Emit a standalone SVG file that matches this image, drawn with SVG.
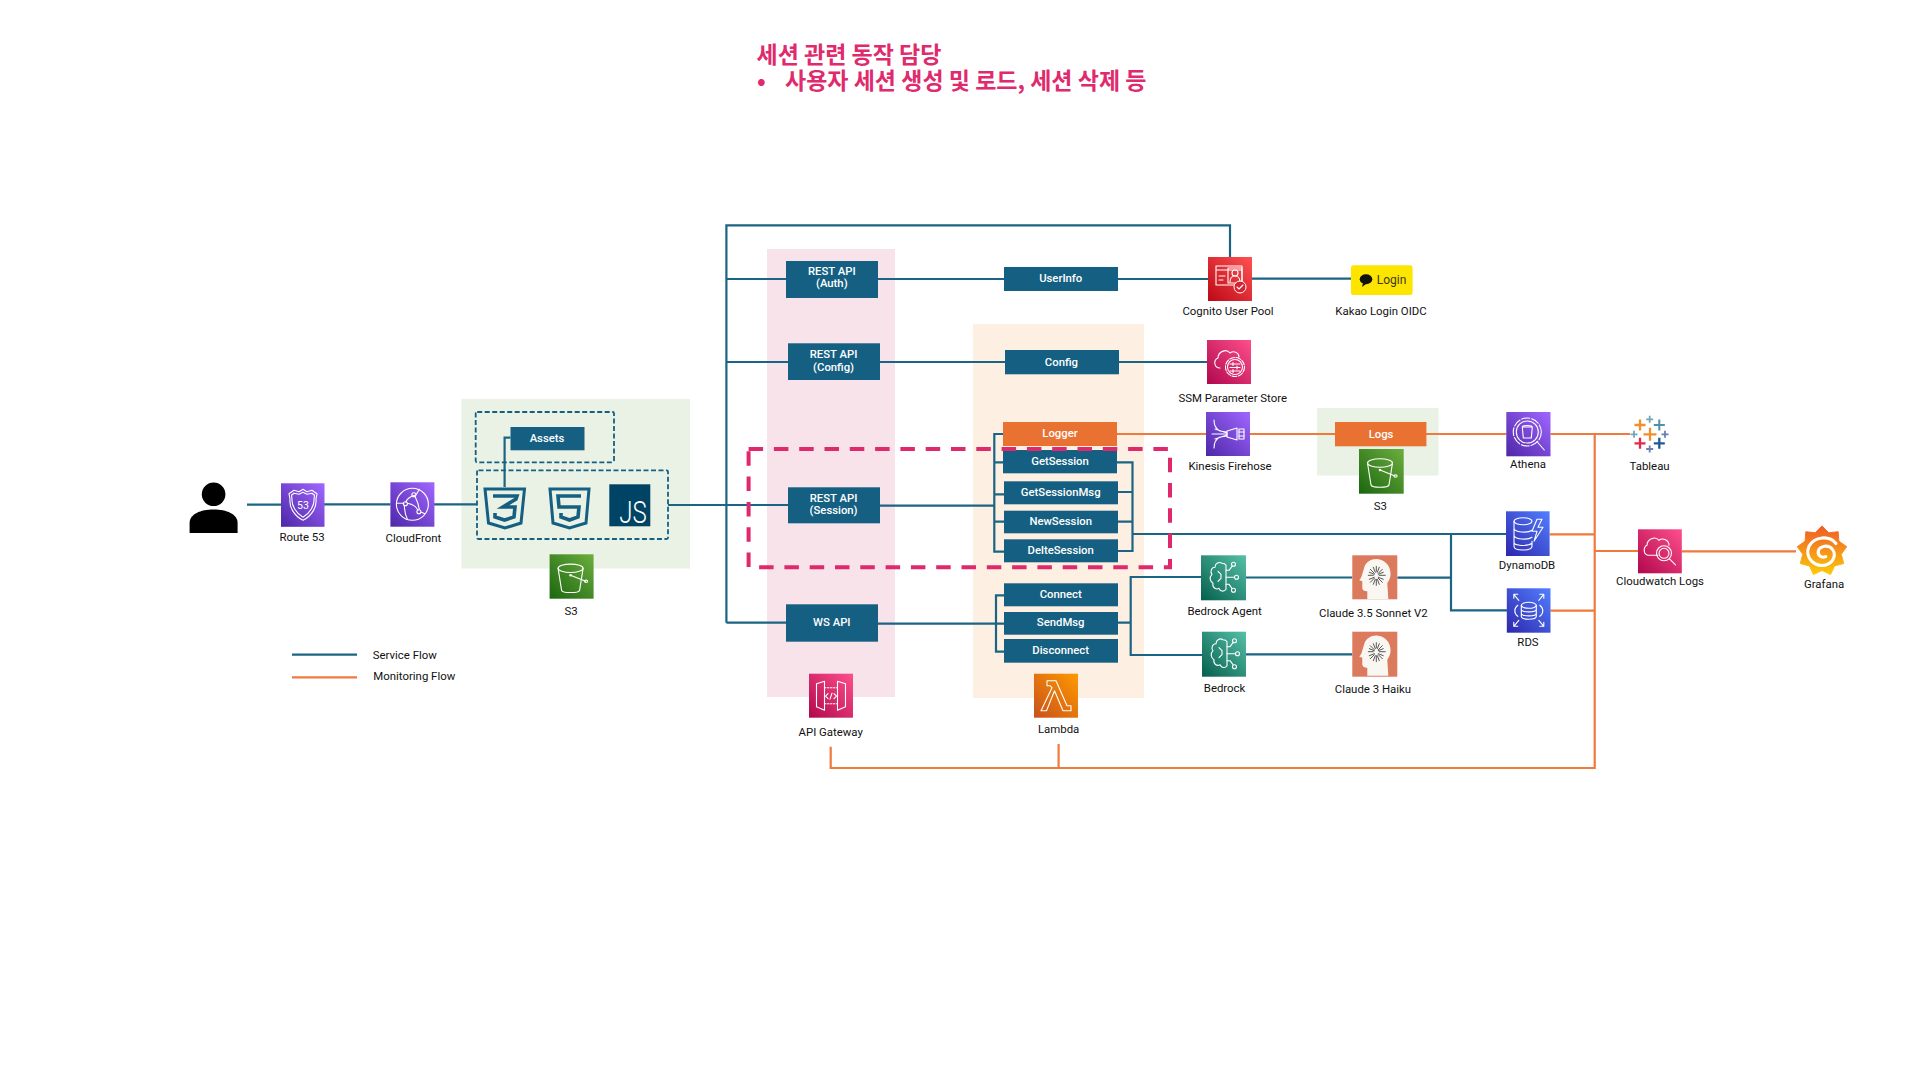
<svg xmlns="http://www.w3.org/2000/svg" width="1920" height="1080" viewBox="0 0 1920 1080">
<style>
text{font-family:Roboto,"Liberation Sans","Noto Sans CJK KR",sans-serif}
.lb{font-size:11.4px;fill:#111;text-anchor:middle}
.bt{font-size:11.3px;fill:#fff;text-anchor:middle;font-weight:500}
.box{fill:#156082}
.obox{fill:#E97132}
.ttl{font-family:"Noto Sans CJK KR",sans-serif;font-size:23px;font-weight:700;fill:#DF2A6D}
.sv{fill:none;stroke:#1B6483;stroke-width:2.2}
.mo{fill:none;stroke:#EE7A3C;stroke-width:2.2}
.dash{fill:none;stroke:#156082;stroke-width:1.8;stroke-dasharray:5 2.5}
.ic{fill:none;stroke:#fff;stroke-width:1.1;stroke-linejoin:round;stroke-linecap:round}
.logo{fill:none;stroke:#156082;stroke-width:3;stroke-linejoin:miter}
.logo2{fill:none;stroke:#156082;stroke-width:3.6;stroke-linejoin:miter}
</style>
<defs>
<linearGradient id="gPurple" x1="0" y1="1" x2="1" y2="0"><stop offset="0" stop-color="#4D27A8"/><stop offset="1" stop-color="#A166FF"/></linearGradient>
<linearGradient id="gGreen" x1="0" y1="1" x2="1" y2="0"><stop offset="0" stop-color="#1B660F"/><stop offset="1" stop-color="#6CAE3E"/></linearGradient>
<linearGradient id="gRed" x1="0" y1="1" x2="1" y2="0"><stop offset="0" stop-color="#BD0816"/><stop offset="1" stop-color="#FF5252"/></linearGradient>
<linearGradient id="gPink" x1="0" y1="1" x2="1" y2="0"><stop offset="0" stop-color="#B0084D"/><stop offset="1" stop-color="#FF4F8B"/></linearGradient>
<linearGradient id="gTeal" x1="0" y1="1" x2="1" y2="0"><stop offset="0" stop-color="#055F4E"/><stop offset="1" stop-color="#56C0A7"/></linearGradient>
<linearGradient id="gBlue" x1="0" y1="1" x2="1" y2="0"><stop offset="0" stop-color="#2E27AD"/><stop offset="1" stop-color="#527FFF"/></linearGradient>
<linearGradient id="gOrange" x1="0" y1="1" x2="1" y2="0"><stop offset="0" stop-color="#C8511B"/><stop offset="1" stop-color="#FF9900"/></linearGradient>
<linearGradient id="gGraf" x1="0" y1="0" x2="0" y2="1"><stop offset="0" stop-color="#F05A28"/><stop offset="1" stop-color="#FBCA0A"/></linearGradient>
<g id="artS3"><ellipse class="ic" cx="21" cy="14" rx="12.500" ry="4.200"/><path class="ic" d="M8.500 14 12 36c1 3 17 3 18 0l3.500-22"/><path class="ic" d="M21 21 36 27"/><ellipse class="ic" cx="36.500" cy="27" rx="1.600" ry="1.200"/><circle cx="21" cy="21" r="1.300" fill="#fff"/></g>
<g id="artBrain"><path class="ic" stroke-width="1.400" d="M21 8c-3-2-7 0-7 4-4 0-5 5-3 7-3 3-2 7 1 9-1 4 3 7 6 5 1 3 5 4 7 1V10c-1-2-2-2-4-2z"/><path class="ic" stroke-width="1.300" d="M25 15h3l3-4M25 22h8M25 29h3l3 4M17 16l3 3v4l-3 3"/><circle class="ic" cx="32.500" cy="9" r="2"/><circle class="ic" cx="35.500" cy="22" r="2"/><circle class="ic" cx="32.500" cy="35" r="2"/></g>
<g id="artClaude"><path d="M9 22 12 12c2-6 8-9 14-8 7 1 11 6 12 12 1 5-1 9-3 12l1 16H15v-8c-3 0-5-1-5-4v-6l-3-1z" fill="#FAF7F2"/><path stroke="#555" stroke-width="1" stroke-linecap="round" d="M24 11v5M24 24v6M16 20h5M27 20h6M18 14l4 4M30 14l-4 4M18 27l4-4M30 27l-4-4M21 12l2 5M27 12l-2 5M17 17l5 2M31 17l-5 2M17 24l5-2M31 24l-5-2M21 29l2-5M27 29l-2-5"/></g>
</defs>

<g id="title">
<text class="ttl" x="756.500" y="63">세션 관련 동작 담당</text>
<text class="ttl" x="757" y="89">•</text>
<text class="ttl" x="785" y="89">사용자 세션 생성 및 로드, 세션 삭제 등</text>
</g>

<g id="panels">
<rect id="panel-frontend" x="461.500" y="399" width="228.500" height="169.500" fill="#EAF2E6"/>
<rect id="panel-apigw" x="767" y="249" width="128" height="448" fill="#F8E3EA"/>
<rect id="panel-lambda" x="973" y="324" width="171" height="374" fill="#FDF0E2"/>
<rect id="panel-logs" x="1317" y="408" width="121.500" height="67.500" fill="#EAF2E6"/>
</g>

<g id="connectors">
<path class="sv" d="M247 504.700H281M324 504.300H390.500M434 504.300H477M668 505H788"/>
<path class="sv" stroke-width="1.800" d="M510.500 437.700H504.600V487"/>
<path class="sv" d="M786 279H726.400M726.400 622.700H786M726.400 362H788M1230 257V225.300H726.400V622.700"/>
<path class="sv" d="M878 279H1004M1118 279H1208M1252 278.700H1351M880 362H1005M1119 362H1207"/>
<path class="sv" d="M880 505.700H994.300"/>
<path class="sv" d="M1003 434H994.300V551.700H1004M994.300 462.300H1003M994.300 494.300H1004M994.300 521.700H1004"/>
<path class="sv" d="M1117 462.300H1132.500V551H1118M1118 492H1132.500M1118 521.700H1132.500"/>
<path class="sv" stroke-width="2.800" d="M1132.500 534H1506"/>
<path class="sv" d="M1451 534V610.300H1507"/>
<path class="sv" d="M878 623.700H1004M1004 595.300H996V651.700H1004"/>
<path class="sv" d="M1118 622.700H1130.700M1201 577H1130.700V655H1202M1246 577.500H1352.300M1397.400 577.700H1451M1246 654.300H1352.300"/>
<path class="mo" d="M1117 434H1206M1250 434H1335M1426 434H1506.300M1550.500 434H1630"/>
<path class="mo" d="M830.700 746.700V768H1594.700V433.700M1058.600 744V768M1549.600 534.300H1594.700M1550.500 610.700H1594.700M1594.700 551H1638M1681.800 551.300H1796"/>
</g>

<g id="legend">
<line class="sv" x1="292" y1="654.700" x2="357" y2="654.700"/>
<line class="mo" x1="292" y1="677.300" x2="357" y2="677.300"/>
<text class="lb" x="404.800" y="659">Service Flow</text>
<text class="lb" x="414.300" y="680">Monitoring Flow</text>
</g>

<g id="user"><circle cx="213.600" cy="494.300" r="11.800" fill="#000"/><path d="M189.600 533V523c0-9 11-13.500 24-13.500s24 4.500 24 13.500v10z" fill="#000"/></g>

<g id="route53" transform="translate(281,483.300)"><rect width="43.500" height="43.500" fill="url(#gPurple)"/><path class="ic" d="M22 6l4 2.500 5-1.500 5 3.500-1 5c1 8-4 17-13 21.500C13 32.500 8 23.500 9 15.500l-1-5L13 7l5 1.500z"/><path class="ic" d="M22 9l4 2 5-1 2.500 2-.5 4c.5 6-4 14-11 18-7-4-11.500-12-11-18l-.5-4L13 10l5 1z"/><text x="22" y="26" font-size="10.500" fill="#fff" text-anchor="middle">53</text><text class="lb" x="21" y="57.400">Route 53</text></g>

<g id="cloudfront" transform="translate(390.400,482.300)"><rect width="44" height="44.400" fill="url(#gPurple)"/><circle class="ic" cx="22" cy="22" r="16"/><path class="ic" d="M24.500 13C20 14 16 17 15.500 20M17 21c5 1 9 3 10.500 7M25 15c2 4 3.500 9 4 12M14 23c0 5 1 10 3 14M26 12l3-5M6.500 21h7M31 30l3.500 1.500"/><circle class="ic" cx="23.500" cy="12.500" r="2"/><circle class="ic" cx="15" cy="21.500" r="2"/><circle class="ic" cx="28.500" cy="29.500" r="2"/><text class="lb" x="23" y="59.400">CloudFront</text></g>

<g id="frontend-assets"><rect class="dash" x="475.700" y="412" width="138.300" height="50.300" rx="1.500"/><rect class="box" x="510.500" y="427" width="74" height="23.300"/><text class="bt" x="547" y="442">Assets</text></g>
<g id="frontend-bundle"><rect class="dash" x="477" y="470.300" width="191" height="68.700" rx="1.500"/>
<g id="css3" transform="translate(483,487)"><path class="logo" d="M2 2H41.500L38 36 22 41 5.500 36z"/><path class="logo2" d="M10 9H34L33 12 20 20H32L31 30 21.500 33 12 30V26"/></g>
<g id="html5" transform="translate(548,487)"><path class="logo" d="M2 2H41L38 36 21.500 41 5 36z"/><path class="logo2" d="M33 9H10L11 20H31L30 30 21.500 33 13 30V26"/></g>
<g id="js" transform="translate(609.300,484.300)"><rect width="41" height="42" fill="#004465"/><text x="10" y="38.500" font-size="31" fill="#fff" font-weight="300" textLength="27.500" lengthAdjust="spacingAndGlyphs">JS</text></g></g>
<g id="s3-web" transform="translate(549.600,554.300)"><rect width="44" height="44.400" fill="url(#gGreen)"/><use href="#artS3"/><text class="lb" x="21.400" y="60.700">S3</text></g>

<g id="rest-auth"><rect class="box" x="786" y="261" width="92" height="37"/><text class="bt" x="831.800" y="275">REST API</text><text class="bt" x="831.800" y="287.300">(Auth)</text></g>
<g id="rest-config"><rect class="box" x="788" y="343.300" width="92" height="36.700"/><text class="bt" x="833.600" y="358.300">REST API</text><text class="bt" x="833.600" y="370.700">(Config)</text></g>
<g id="rest-session"><rect class="box" x="788" y="487.300" width="92" height="36"/><text class="bt" x="833.600" y="501.700">REST API</text><text class="bt" x="833.600" y="514">(Session)</text></g>
<g id="ws-api"><rect class="box" x="786" y="604.300" width="92" height="37.400"/><text class="bt" x="831.800" y="626">WS API</text></g>
<g id="api-gateway" transform="translate(809,673.700)"><rect width="44" height="44" fill="url(#gPink)"/><path class="ic" d="M15.500 7.500 7.500 10V33L15.500 36.500zM28.500 7.500 36.500 10V33L28.500 36.500z"/><path class="ic" stroke-dasharray="1.500 1.500" d="M15.500 14H28.500M15.500 30H28.500"/><path class="ic" d="M19 20l-2.500 2.500L19 25M25 20l2.500 2.500L25 25M23 19.500l-2 6"/><text class="lb" x="21.700" y="62.600">API Gateway</text></g>

<g id="userinfo"><rect class="box" x="1004" y="267" width="114" height="24"/><text class="bt" x="1060.700" y="282.300">UserInfo</text></g>
<g id="config"><rect class="box" x="1005" y="350" width="114" height="24.300"/><text class="bt" x="1061.400" y="365.700">Config</text></g>
<g id="logger"><rect class="obox" x="1003" y="422" width="114" height="24"/><text class="bt" x="1060" y="436.700">Logger</text></g>
<g id="getsession"><rect class="box" x="1003" y="450" width="114" height="23.300"/><text class="bt" x="1060" y="464.700">GetSession</text></g>
<g id="getsessionmsg"><rect class="box" x="1004" y="481.300" width="114" height="23"/><text class="bt" x="1060.700" y="495.700">GetSessionMsg</text></g>
<g id="newsession"><rect class="box" x="1004" y="510.700" width="114" height="22.600"/><text class="bt" x="1060.700" y="525">NewSession</text></g>
<g id="deltesession"><rect class="box" x="1004" y="539.300" width="114" height="23"/><text class="bt" x="1060.700" y="554">DelteSession</text></g>
<g id="connect"><rect class="box" x="1004" y="583.300" width="114" height="23"/><text class="bt" x="1060.700" y="597.700">Connect</text></g>
<g id="sendmsg"><rect class="box" x="1004" y="612" width="114" height="22.700"/><text class="bt" x="1060.700" y="626">SendMsg</text></g>
<g id="disconnect"><rect class="box" x="1004" y="639" width="114" height="23.700"/><text class="bt" x="1060.700" y="654">Disconnect</text></g>
<g id="lambda" transform="translate(1034,673.700)"><rect width="44" height="44" fill="url(#gOrange)"/><path class="ic" stroke-width="1.300" d="M13 7h9l11 25h4v5h-8L20.500 17 12.500 37H7l11-23-2-2h-3z"/><text class="lb" x="24.600" y="59.300">Lambda</text></g>

<g id="cognito" transform="translate(1208,257)"><rect width="44" height="44" fill="url(#gRed)"/><path class="ic" d="M27 28H8V9H34V25M8 13H34M11 19h6M11 23h4"/><rect class="ic" x="20" y="11" width="14" height="15"/><circle class="ic" cx="27" cy="16" r="3"/><path class="ic" d="M22 25c0-8 10-8 10 0"/><circle cx="32" cy="30" r="6" fill="#D42431" stroke="#fff" stroke-width="1"/><path class="ic" d="M29 30l2 2 4-4"/><text class="lb" x="20" y="58">Cognito User Pool</text></g>
<g id="kakao"><rect x="1351" y="265.300" width="61.600" height="29.700" rx="2.500" fill="#FEE500"/><ellipse cx="1366" cy="279.300" rx="6.300" ry="5" fill="#111"/><path d="M1363 283l-1 4 4-3z" fill="#111"/><text x="1391.500" y="284.300" font-size="12" fill="#3a3a20" text-anchor="middle">Login</text><text class="lb" x="1381" y="315.300">Kakao Login OIDC</text></g>
<g id="ssm" transform="translate(1207,340)"><rect width="44" height="44" fill="url(#gPink)"/><path class="ic" d="M13 28C7 28 6 20 11 18 11 12 19 8 23 13 27 10 32 13 32 17"/><circle class="ic" cx="28" cy="27" r="9.500" stroke-dasharray="5 1.500"/><circle class="ic" cx="28" cy="27" r="7.500"/><path class="ic" d="M23 24h10M23 27.500h10M23 31h10M26 22.500v3M30 26v3M26 29.500v3"/><text class="lb" x="25.700" y="61.700">SSM Parameter Store</text></g>
<g id="kinesis" transform="translate(1206,412)"><rect width="44" height="44" fill="url(#gPurple)"/><path class="ic" d="M8 8c0 6 2 9 6 11l7 1M6 22H21M8 36c0-6 2-9 6-11l7-1M9 17l12 4M9 27l12-4"/><path class="ic" d="M21 19l10-3v12l-10-3z"/><rect class="ic" x="33" y="17" width="5" height="10"/><path class="ic" d="M33 20h5M33 24h5"/><text class="lb" x="24" y="57.700">Kinesis Firehose</text></g>
<g id="logs"><rect class="obox" x="1335" y="422" width="91.400" height="24.300"/><text class="bt" x="1381" y="437.700">Logs</text></g>
<g id="s3-logs" transform="translate(1359,449)"><rect width="44.700" height="44.700" fill="url(#gGreen)"/><use href="#artS3"/><text class="lb" x="21.400" y="60.700">S3</text></g>
<g id="athena" transform="translate(1506.300,412)"><rect width="44.200" height="44.300" fill="url(#gPurple)"/><circle class="ic" cx="21" cy="20" r="14" stroke-dasharray="8 2"/><circle class="ic" cx="21" cy="20" r="11"/><path class="ic" d="M16 15h10l-1 11h-8z M16 15c0-2 10-2 10 0"/><path class="ic" stroke-width="2.600" d="M31 30l7 8"/><text class="lb" x="21.700" y="55.700">Athena</text></g>
<g id="tableau" fill="none" stroke-width="1.800">
<path stroke="#F28E2B" stroke-width="2.300" d="M1643.500 434.300h13M1650 427.800v13M1634.500 425h11M1640 419.500v11"/>
<path stroke="#4E8FAA" stroke-width="2" d="M1653.800 425h11M1659.300 419.500v11"/>
<path stroke="#E3294B" stroke-width="2.300" d="M1634.500 443.300h11M1640 437.800v11"/>
<path stroke="#1F5A96" stroke-width="2.300" d="M1653.800 443.300h11M1659.300 437.800v11"/>
<path stroke="#6FA8B8" d="M1646.200 419.300h7M1649.700 415.800v7M1630.500 434.300h7M1634 430.800v7"/>
<path stroke="#6C7FAF" d="M1661.500 434.300h7M1665 430.800v7M1646.200 449h7M1649.700 445.500v7"/>
<text class="lb" x="1649.600" y="469.700" stroke="none">Tableau</text></g>

<g id="bedrock-agent" transform="translate(1201,555.300)"><rect width="45" height="45" fill="url(#gTeal)"/><use href="#artBrain"/><text class="lb" x="23.600" y="60">Bedrock Agent</text></g>
<g id="bedrock" transform="translate(1202,631.700)"><rect width="44" height="45" fill="url(#gTeal)"/><use href="#artBrain"/><text class="lb" x="22.600" y="60.600">Bedrock</text></g>
<g id="claude-sonnet" transform="translate(1352.300,555.300)"><rect width="45" height="44" fill="#DB7A5C"/><use href="#artClaude"/><text class="lb" x="21" y="61.700">Claude 3.5 Sonnet V2</text></g>
<g id="claude-haiku" transform="translate(1352.300,631.700)"><rect width="45" height="45" fill="#DB7A5C"/><use href="#artClaude"/><text class="lb" x="20.600" y="61.300">Claude 3 Haiku</text></g>
<g id="dynamodb" transform="translate(1506,511.300)"><rect width="43.600" height="44.700" fill="url(#gBlue)"/><ellipse class="ic" cx="17" cy="10" rx="9" ry="3.500"/><path class="ic" d="M8 10V35c0 5 18 5 18 0V30M8 17c0 4 14 5 18 2M8 24c0 4 14 5 18 2M8 31c0 4 14 4 18 1"/><path class="ic" d="M31 8l-5 12h5l-3 10 9-14h-5l4-8z"/><text class="lb" x="21" y="57.400">DynamoDB</text></g>
<g id="rds" transform="translate(1506.800,588.300)"><rect width="43.700" height="44.400" fill="url(#gBlue)"/><ellipse class="ic" cx="22" cy="17" rx="7.500" ry="3"/><path class="ic" d="M14.500 17V28c0 4 15 4 15 0V17M14.500 21c0 3.500 15 3.500 15 0M14.500 25c0 3.500 15 3.500 15 0M11 17c-4 3-4 8 0 11M33 17c4 3 4 8 0 11M7 6l5 6M7 6h4M7 6v4M37 6l-5 6M37 6h-4M37 6v4M7 38l5-6M7 38h4M7 38v-4M37 38l-5-6M37 38h-4M37 38v-4"/><text class="lb" x="21.200" y="57.700">RDS</text></g>
<g id="cloudwatch" transform="translate(1638,529.300)"><rect width="43.800" height="44" fill="url(#gPink)"/><path class="ic" d="M20 26H11C5 26 5 18 9 16 9 10 17 6 21 11 25 8 31 11 31 16"/><circle class="ic" cx="26" cy="24" r="7.500"/><circle class="ic" cx="26" cy="24" r="5"/><path class="ic" stroke-width="2" d="M31.500 29.500l6 6"/><text class="lb" x="22" y="55.700">Cloudwatch Logs</text></g>
<g id="grafana" transform="translate(1822,551)"><g transform="scale(.93)"><path fill="url(#gGraf)" stroke="url(#gGraf)" stroke-width="1" stroke-linejoin="round" d="M0-27 7.200-19.700 17.400-20.700 18.200-10.500 26.600-4.700 20.700 3.600 23.400 13.500 13.500 16.100 9.200 25.400 0 21-9.200 25.400-13.500 16.100-23.400 13.500-20.700 3.600-26.600-4.700-18.200-10.500-17.400-20.700-7.200-19.700z"/><path fill="none" stroke="#fff" stroke-width="3.300" stroke-linecap="round" d="M15-8C8-17-8-16-14-5-19 7-8 18 4 15 12 13 16 4 11-2 7-7-2-6-4 0-5 5 0 8 4 6"/></g><text class="lb" x="2" y="36.700">Grafana</text></g>

<rect id="session-highlight" x="748.600" y="449" width="421.400" height="118.300" fill="none" stroke="#E0286D" stroke-width="4" stroke-dasharray="14.500 10.800"/>
</svg>
